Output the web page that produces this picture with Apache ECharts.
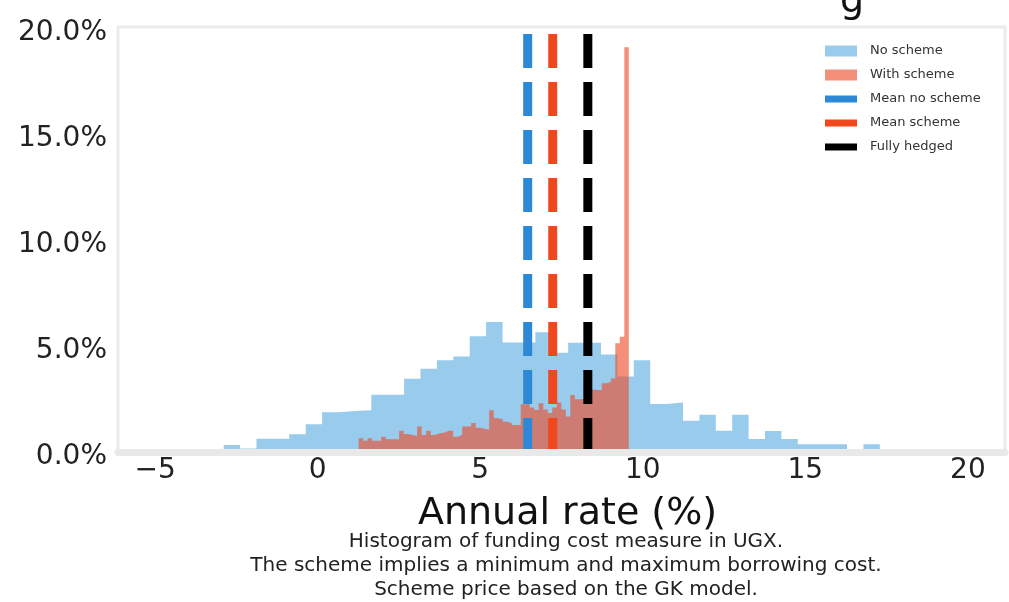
<!DOCTYPE html>
<html><head><meta charset="utf-8">
<script src="https://cdn.jsdelivr.net/npm/echarts@6/dist/echarts.min.js"></script>
<style>html,body{margin:0;padding:0;background:#fff}#c{width:1009px;height:602px}</style>
</head><body><div id="c"></div>
<script>
// ---- data ----
const xTickValues = [-5, 0, 5, 10, 15, 20];
const yTickValues = [0, 5, 10, 15, 20];
const captionLines = [
  'Histogram of funding cost measure in UGX.',
  'The scheme implies a minimum and maximum borrowing cost.',
  'Scheme price based on the GK model.'
];
// "No scheme" histogram: first bin edge, bin width (annual rate %), bar heights (% of draws)
const noSchemeStart = -2.89;
const noSchemeBinWidth = 0.5045;
const noSchemeValues = [0.33,0.17,0.62,0.62,0.84,1.31,1.88,1.94,1.97,2.7,
  2.7,3.46,3.93,4.33,4.5,5.46,6.13,5.17,5.17,5.65,
  4.68,5.15,5.15,4.6,3.56,4.33,2.26,2.34,1.48,1.76,
  1.0,1.76,0.61,0.99,0.61,0.36,0.36,0.36,0,0.36];
// "With scheme" histogram
const schemeStart = 1.26;
const schemeBinWidth = 0.1385;
const schemeValues = [0.65,0.53,0.65,0.53,0.53,0.72,0.6,0.6,0.6,1.0,
  0.85,0.8,0.75,1.2,0.8,1.0,0.8,0.88,0.91,1.0,
  1.0,0.72,0.8,1.2,1.22,1.37,1.14,1.1,1.05,1.97,
  1.59,1.55,1.43,1.37,1.27,1.27,2.25,2.26,2.1,1.98,
  2.3,2.0,1.84,2.1,2.33,2.0,1.67,2.69,2.49,2.5,
  3.05,2.95,2.92,2.92,3.24,3.3,3.47,5.13,5.44,19.1];
const meanNoScheme = 6.46;
const meanScheme = 7.23;
const fullyHedged = 8.31;
const seriesNames = ['No scheme', 'With scheme', 'Mean no scheme', 'Mean scheme', 'Fully hedged'];

// ---- helpers ----
const Y_MAX = 20.05;
function stepData(start, width, values) {
  const out = values.map((v, k) => [start + k * width, v]);
  out.push([start + values.length * width, values[values.length - 1]]);
  return out;
}
function vline(x) { return [[x, 0], [x, Y_MAX]]; }

const blueFill = 'rgba(52,152,219,0.5)';
const redFill = 'rgba(238,76,40,0.62)';
const blueLine = '#2d88d6';
const redLine = '#f2461f';
const blackLine = '#000000';
const FONT = 'DejaVu Sans';

const chart = echarts.init(document.getElementById('c'));
chart.setOption({
  animation: false,
  backgroundColor: '#ffffff',
  textStyle: { fontFamily: FONT },
  grid: { left: 118, right: 4, top: 27, bottom: 150, show: true, borderColor: '#ebebeb', borderWidth: 3 },
  xAxis: {
    type: 'value', min: -6.14, max: 21.14, z: 10,
    axisLine: { show: true, onZero: false, lineStyle: { color: '#e9e9e9', width: 7 } },
    axisTick: { show: false },
    splitLine: { show: false },
    axisLabel: {
      customValues: xTickValues,
      formatter: v => v < 0 ? '\u2212' + Math.abs(v) : String(v),
      fontSize: 28, color: '#222', margin: 5, fontFamily: FONT
    },
    name: 'Annual rate (%)', nameLocation: 'middle', nameGap: 43,
    nameTextStyle: { fontSize: 38, color: '#111', fontFamily: FONT, padding: [0, 0, 0, 12] }
  },
  yAxis: {
    type: 'value', min: 0, max: Y_MAX,
    axisLine: { show: false }, axisTick: { show: false }, splitLine: { show: false },
    axisLabel: {
      customValues: yTickValues,
      formatter: v => '{a|' + v.toFixed(1) + '%}',
      margin: 11,
      rich: { a: { fontSize: 28, color: '#222', fontFamily: FONT, padding: [9, 0, 0, 0] } }
    }
  },
  legend: [
    {
      orient: 'vertical', left: 820, top: 39, itemWidth: 32, itemHeight: 11, itemGap: 10,
      icon: 'rect', selectedMode: false,
      textStyle: { fontSize: 13, color: '#333', lineHeight: 14, padding: [0, 0, 0, 8] },
      data: [
        { name: seriesNames[0], itemStyle: { color: blueFill, borderWidth: 0 } },
        { name: seriesNames[1], itemStyle: { color: redFill, borderWidth: 0 } }
      ]
    },
    {
      orient: 'vertical', left: 820, top: 87, itemWidth: 32, itemHeight: 7, itemGap: 10,
      icon: 'rect', selectedMode: false,
      textStyle: { fontSize: 13, color: '#333', lineHeight: 14, padding: [0, 0, 0, 8] },
      data: [
        { name: seriesNames[2], itemStyle: { color: blueLine, borderWidth: 0 } },
        { name: seriesNames[3], itemStyle: { color: redLine, borderWidth: 0 } },
        { name: seriesNames[4], itemStyle: { color: blackLine, borderWidth: 0 } }
      ]
    }
  ],
  graphic: [
    { type: 'text', x: 566, y: 530, z: 100,
      style: { text: captionLines.join('\n'), textAlign: 'center', font: '20px "DejaVu Sans"', fill: '#222', lineHeight: 24 } },
    { type: 'text', x: 840, y: -17, z: 100,
      style: { text: 'g', font: '38px "DejaVu Sans"', fill: '#111' } }
  ],
  series: [
    { type: 'line', name: seriesNames[0], data: stepData(noSchemeStart, noSchemeBinWidth, noSchemeValues),
      step: 'end', symbol: 'none', silent: true, color: blueFill,
      lineStyle: { width: 0, opacity: 0 }, areaStyle: { color: blueFill, opacity: 1 } },
    { type: 'line', name: seriesNames[1], data: stepData(schemeStart, schemeBinWidth, schemeValues),
      step: 'end', symbol: 'none', silent: true, color: redFill,
      lineStyle: { width: 0, opacity: 0 }, areaStyle: { color: redFill, opacity: 1 } },
    { type: 'line', name: seriesNames[2], data: vline(meanNoScheme), symbol: 'none', silent: true, color: blueLine,
      lineStyle: { color: blueLine, width: 9, type: [34, 14] } },
    { type: 'line', name: seriesNames[3], data: vline(meanScheme), symbol: 'none', silent: true, color: redLine,
      lineStyle: { color: redLine, width: 9, type: [34, 14] } },
    { type: 'line', name: seriesNames[4], data: vline(fullyHedged), symbol: 'none', silent: true, color: blackLine,
      lineStyle: { color: blackLine, width: 9, type: [34, 14] } }
  ]
});
</script></body></html>
